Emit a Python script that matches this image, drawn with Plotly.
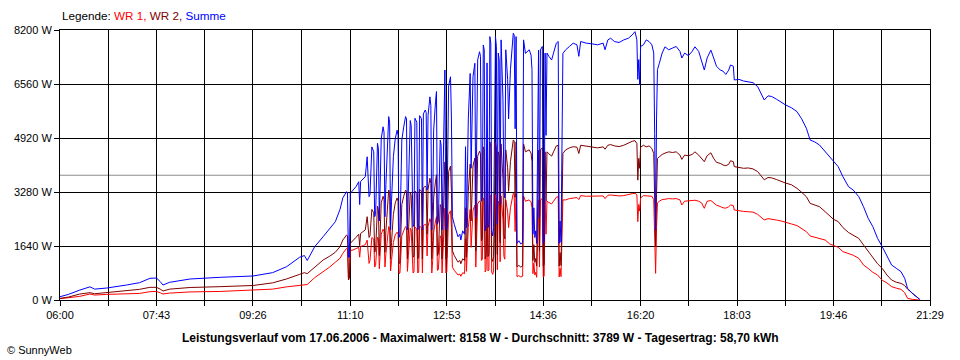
import plotly.graph_objects as go

# ---------------- data ----------------
times = [
    "06:00","06:09","06:21","06:32","06:37","06:50","07:11","07:25","07:36","07:43",
    "07:47","07:50","07:57","08:19","08:51","09:26","09:47","10:02","10:16","10:21",
    "10:24","10:32","10:41","10:48","10:54","10:59","11:02","11:06","11:07","11:08",
    "11:09","11:10","11:13","11:16","11:19","11:20","11:21","11:24","11:26","11:28",
    "11:30","11:31","11:33","11:35","11:36","11:37","11:39","11:40","11:41","11:43",
    "11:45","11:46","11:47","11:48","11:51","11:52","11:53","11:54","11:56","11:58",
    "12:00","12:01","12:02","12:03","12:05","12:07","12:09","12:10","12:11","12:12",
    "12:14","12:15","12:17","12:18","12:19","12:21","12:22","12:23","12:24","12:26",
    "12:27","12:28","12:30","12:31","12:32","12:33","12:35","12:36","12:37","12:38",
    "12:39","12:41","12:42","12:43","12:44","12:46","12:47","12:48","12:50","12:51",
    "12:52","12:53","12:55","12:57","12:58","12:59","13:01","13:03","13:05","13:07",
    "13:08","13:10","13:12","13:13","13:14","13:16","13:18","13:19","13:21","13:23",
    "13:24","13:26","13:28","13:29","13:30","13:31","13:32","13:33","13:34","13:35",
    "13:36","13:37","13:38","13:39","13:40","13:41","13:42","13:43","13:45","13:46",
    "13:47","13:48","13:49","13:50","13:51","13:53","13:54","13:55","13:56","13:58",
    "13:59","14:01","14:03","14:04","14:05","14:06","14:07","14:08","14:10","14:12",
    "14:14","14:15","14:17","14:19","14:21","14:23","14:24","14:25","14:26","14:27",
    "14:28","14:29","14:30","14:31","14:32","14:33","14:35","14:36","14:37","14:38",
    "14:39","14:40","14:42","14:45","14:47","14:50","14:52","14:53","14:54","14:55",
    "14:57","15:00","15:04","15:08","15:12","15:14","15:16","15:22","15:28","15:34",
    "15:40","15:42","15:45","15:48","15:52","15:57","16:02","16:07","16:11","16:14",
    "16:16","16:17","16:18","16:19","16:20","16:23","16:26","16:29","16:32","16:34",
    "16:35","16:36","16:37","16:38","16:40","16:43","16:46","16:50","16:54","16:58",
    "17:02","17:04","17:07","17:11","17:15","17:18","17:22","17:25","17:28","17:31",
    "17:35","17:38","17:41","17:45","17:48","17:51","17:54","17:56","17:59","18:00",
    "18:05","18:10","18:15","18:20","18:25","18:28","18:32","18:36","18:40","18:45",
    "18:50","18:55","19:01","19:07","19:12","19:17","19:21","19:26","19:31","19:37",
    "19:42","19:46","19:51","19:56","20:02","20:07","20:13","20:18","20:23","20:28",
    "20:33","20:38","20:43","20:48","20:53","20:58","21:02","21:05","21:10","21:15",
    "21:18",
]

summe = [
    100,170,300,400,330,364,455,526,658,668,
    560,455,537,638,689,729,830,1012,1300,1350,
    1200,1620,1923,2177,2378,2750,3100,3290,3250,1300,
    1300,3240,3340,3440,3590,2900,3600,3700,3745,4350,
    3140,3200,4650,4500,2530,2600,4760,4600,2400,4900,
    5260,5100,2530,3500,5570,5400,2130,3000,4350,4900,
    5160,5000,1900,2000,4860,5250,5570,5500,2130,3340,
    5450,5300,2230,2300,5520,5400,2130,2200,5600,5500,
    2130,5650,5770,5700,3340,5600,6170,5900,2130,3000,
    5160,6020,6330,2300,2400,4860,4700,2130,6500,6985,
    2130,2200,6500,6780,5500,2530,2300,2100,1920,2000,
    1820,2100,2000,4656,2200,5500,6880,4000,6780,7190,
    2500,7290,7540,7400,3000,3100,7745,7600,2100,2300,
    7200,2200,2300,8000,7800,2100,1950,2200,8000,7700,
    2300,7500,7300,2900,7900,6100,3300,3100,7600,6700,
    5500,7000,7900,8100,8050,5200,8000,1720,1800,1700,
    1750,7900,7490,7540,7600,7440,7000,2000,2800,1900,
    2100,1720,6500,7590,2500,7600,7700,1720,1800,7500,
    5000,7500,7400,7290,7500,7800,7850,1720,2400,1750,
    7490,7600,7700,7800,7750,7400,7850,7800,7780,7750,
    7800,7600,7900,7950,7850,7820,7900,7950,8050,8150,
    7900,6700,7300,6530,7700,7750,7900,7850,7750,7500,
    5060,2130,5500,7000,7190,7500,7690,7600,7650,7700,
    7550,7350,7500,7420,7550,7690,7550,7300,6985,7350,
    7590,7350,7100,6985,6950,6850,6980,7137,7100,6682,
    6700,6650,6620,6600,6480,6300,6074,6200,6180,6100,
    6000,5920,5840,5719,5500,5214,4859,4800,4707,4504,
    4350,4200,4048,3745,3441,3340,3137,2834,2480,2227,
    1873,1619,1316,1063,962,860,658,354,203,101,
    20,
]

wr2 = [
    50,90,180,223,190,223,284,324,385,385,
    330,273,330,380,405,440,520,640,780,830,
    800,1000,1215,1330,1450,1620,1822,1974,1950,607,
    650,1720,1800,1900,2000,1650,2020,2100,2130,2530,
    1900,1950,2750,2650,1450,1500,2850,2750,1350,2950,
    3150,3050,1450,2100,3340,3240,1250,1750,2600,2950,
    3100,3000,1100,1150,2900,3150,3340,3300,1250,2000,
    3270,3180,1300,1350,3310,3240,1250,1300,3360,3300,
    1250,3400,3460,3420,2000,3360,3700,3540,1250,1800,
    3100,3610,3800,1350,1400,2900,2820,1250,3900,4190,
    1250,1300,3900,4070,3300,1500,1350,1250,1150,1200,
    1100,1250,1200,2800,1300,3300,4130,2400,4070,4310,
    1500,4370,4520,4440,1800,1860,4650,4560,1250,1380,
    4320,1320,1380,4800,4680,1250,1170,1320,4800,4620,
    1380,4500,4380,1740,4740,3660,1980,1860,4560,4020,
    3300,4200,4740,4860,4830,3120,4800,1010,1050,1000,
    1030,4740,4500,4520,4560,4460,4200,1200,1680,1140,
    1260,1030,3900,4550,1500,4560,4620,1030,1080,4500,
    3000,4500,4440,4370,4500,4680,4700,1030,1440,1050,
    4450,4560,4620,4656,4640,4450,4700,4680,4660,4620,
    4650,4580,4700,4720,4680,4660,4700,4780,4820,4840,
    4750,3640,4300,4000,4640,4700,4650,4680,4600,4450,
    3000,1620,3200,4300,4350,4420,4460,4500,4480,4500,
    4400,4270,4400,4380,4420,4500,4400,4300,4200,4380,
    4470,4300,4180,4150,4100,4080,4120,4230,4200,4050,
    4030,4000,4010,3980,3900,3780,3650,3720,3710,3660,
    3593,3550,3500,3390,3270,3137,2935,2880,2834,2682,
    2560,2450,2380,2200,2050,1960,1870,1670,1480,1300,
    1100,960,759,607,540,506,440,330,200,100,
    20,
]

wr1 = [
    40,80,110,182,150,170,180,200,253,260,
    220,182,210,245,260,300,330,400,455,480,
    470,680,850,1000,1150,1265,1417,1569,1550,668,
    700,1500,1520,1560,1600,1300,1620,1660,1680,1820,
    1110,1200,1900,1850,1000,1050,1910,1860,950,2000,
    2150,2080,1000,1400,2230,2180,880,1200,1750,1980,
    2060,2000,800,820,1950,2100,2230,2200,870,1340,
    2180,2120,820,850,2210,2160,820,850,2240,2200,
    820,2260,2300,2280,1340,2240,2470,2360,820,1200,
    2060,2400,2530,900,920,1950,1880,820,2600,2790,
    820,860,2600,2710,2200,1000,900,820,760,790,
    720,830,800,1860,870,2200,2750,1600,2710,2880,
    1000,2920,3010,2960,1200,1240,3100,3040,850,920,
    2880,880,920,3200,3120,850,780,880,3200,3080,
    920,3000,2920,1160,3160,2440,1320,1240,3040,2680,
    2200,2800,3160,3240,3220,2080,3200,710,740,700,
    720,3160,3000,3010,3040,2980,2800,800,1120,760,
    840,690,2600,3040,1000,3040,3080,700,720,3000,
    2000,3000,2960,2920,3000,3120,3140,700,960,710,
    3040,3040,3080,3100,3110,3050,3170,3150,3160,3150,
    3160,3080,3180,3190,3170,3160,3170,3210,3230,3240,
    3200,2380,2900,2700,3100,3170,3170,3150,3150,3050,
    2000,810,2200,2950,3000,3050,3060,3080,3070,3080,
    3040,2885,3000,3010,3000,3030,3000,2950,2785,3000,
    3020,2950,2880,2840,2800,2790,2830,2885,2870,2733,
    2700,2690,2680,2670,2600,2530,2430,2470,2460,2430,
    2400,2350,2310,2260,2170,2075,1944,1900,1873,1822,
    1700,1650,1600,1470,1400,1360,1265,1063,960,840,
    759,600,520,405,360,324,220,51,20,0,
    0,
]

average_w = 3789
x_tick_labels = ["06:00", "07:43", "09:26", "11:10", "12:53", "14:36",
                 "16:20", "18:03", "19:46", "21:29"]
y_tick_values = [0, 1640, 3280, 4920, 6560, 8200]
title_text = ("Leistungsverlauf vom 17.06.2006 - Maximalwert: 8158 W - "
              "Durchschnitt: 3789 W - Tagesertrag: 58,70 kWh")

# ---------------- helpers ----------------
def to_min(s):
    h, m = s.split(":")
    return int(h) * 60 + int(m) - 360  # minutes after 06:00

x = [to_min(t) for t in times]
major = [to_min(t) for t in x_tick_labels]
tickvals, ticktext = [], []
for i, v in enumerate(major):
    tickvals.append(v)
    ticktext.append(x_tick_labels[i])
    if i < len(major) - 1:
        tickvals.append((v + major[i + 1]) / 2)
        ticktext.append("")

FONT = "Liberation Sans, Arial, sans-serif"

fig = go.Figure()
fig.add_trace(go.Scatter(x=x, y=wr1, mode="lines", name="WR 1",
                         line=dict(color="#ff0000", width=1)))
fig.add_trace(go.Scatter(x=x, y=wr2, mode="lines", name="WR 2",
                         line=dict(color="#800000", width=1)))
fig.add_trace(go.Scatter(x=x, y=summe, mode="lines", name="Summe",
                         line=dict(color="#0000ff", width=1)))

fig.add_shape(type="line", xref="paper", x0=0, x1=1, yref="y",
              y0=average_w, y1=average_w,
              line=dict(color="#8c8c8c", width=1), layer="between")

fig.update_layout(
    width=960, height=360,
    margin=dict(l=60, r=30, t=30, b=60),
    paper_bgcolor="white", plot_bgcolor="white",
    showlegend=False,
    font=dict(family=FONT, size=11, color="black"),
    xaxis=dict(range=[major[0], major[-1]], tickmode="array",
               tickvals=tickvals, ticktext=ticktext,
               showgrid=True, gridcolor="black", gridwidth=1,
               zeroline=False, showline=True, linecolor="black",
               linewidth=1, mirror=True, ticks="outside", ticklen=5,
               tickcolor="black", tickfont=dict(size=11, family=FONT)),
    yaxis=dict(range=[0, 8200], tickmode="array",
               tickvals=y_tick_values,
               ticktext=[f"{v} W" for v in y_tick_values],
               showgrid=True, gridcolor="black", gridwidth=1,
               zeroline=False, showline=True, linecolor="black",
               linewidth=1, mirror=True, ticks="outside", ticklen=5,
               tickcolor="black", tickfont=dict(size=11, family=FONT)),
    annotations=[
        dict(xref="paper", yref="paper", x=0, y=1.052, xanchor="left",
             yanchor="middle", showarrow=False,
             text=('<span style="color:#000000">Legende: </span>'
                   '<span style="color:#ff0000">WR 1, </span>'
                   '<span style="color:#800000">WR 2, </span>'
                   '<span style="color:#0000ff">Summe</span>'),
             font=dict(size=11.7, family=FONT)),
        dict(xref="paper", yref="paper", x=0.4839, y=-0.141,
             xanchor="center", yanchor="middle", showarrow=False,
             text="<b>" + title_text + "</b>",
             font=dict(size=12, family=FONT, color="black")),
        dict(xref="paper", yref="paper", x=-0.0632, y=-0.185,
             xanchor="left", yanchor="middle", showarrow=False,
             text="© SunnyWeb", font=dict(size=11, family=FONT,
                                          color="black")),
    ],
)

fig.write_html("out.html",
               config={"displayModeBar": False},
               post_script="document.body.style.margin='0px';"
                           "document.body.style.padding='0px';")
